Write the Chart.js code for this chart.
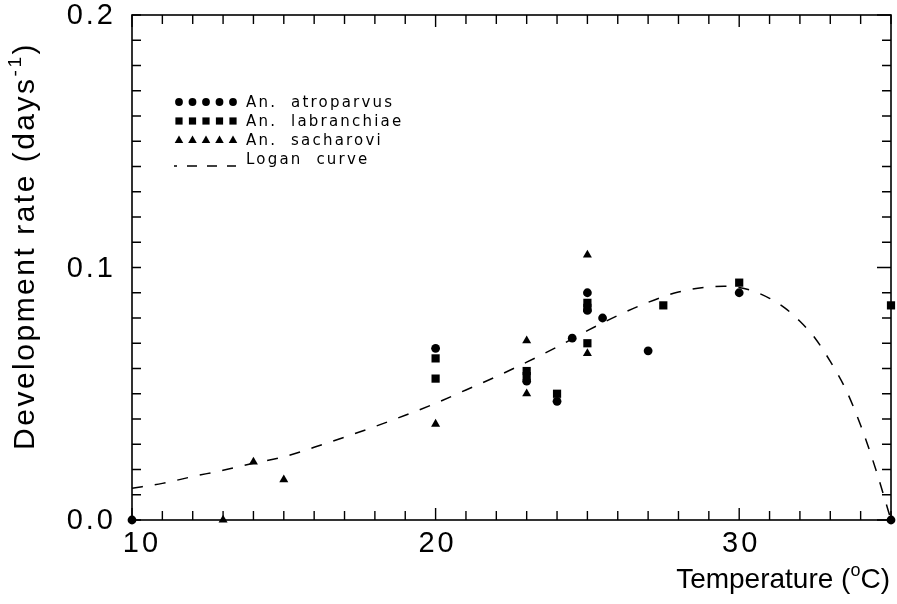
<!DOCTYPE html>
<html>
<head>
<meta charset="utf-8">
<script src="https://cdn.jsdelivr.net/npm/chart.js@4.4.1/dist/chart.umd.min.js"></script>
<style>
  html, body { margin: 0; padding: 0; background: #fff; }
  #wrap { width: 897px; height: 604px; }
</style>
</head>
<body>
<div id="wrap"><canvas id="chart" width="897" height="604"></canvas></div>
<script>
// values (temperature in C, rate in 1/days)
var atroparvusT = [10, 20, 23, 24, 24.5, 25, 25, 25.5, 27, 30, 35];
var atroparvusR = [0.0, 0.068, 0.055, 0.047, 0.072, 0.090, 0.083, 0.080, 0.067, 0.090, 0.0];

var labranchiaeT = [20, 20, 23, 23, 24, 25, 25, 25, 27.5, 30, 35];
var labranchiaeR = [0.064, 0.056, 0.059, 0.057, 0.050, 0.086, 0.084, 0.070, 0.085, 0.094, 0.085];

var sacharoviT = [13, 14, 15, 20, 23, 23, 25, 25];
var sacharoviR = [0.0, 0.023, 0.016, 0.038, 0.071, 0.050, 0.105, 0.066];

// fitted Logan curve
var loganT = [10, 11, 12, 13, 14, 15, 16, 17, 18, 19, 20, 21, 22, 23, 24, 25, 26, 27, 28, 29, 29.5, 30, 30.5, 31, 31.5, 32, 32.5, 33, 33.5, 34, 34.5, 35];
var loganR = [0.0126, 0.0145, 0.0172, 0.0197, 0.0225, 0.0250, 0.0288, 0.0328, 0.0370, 0.0415, 0.0462, 0.0515, 0.0568, 0.0625, 0.0685, 0.0750, 0.0810, 0.0862, 0.0903, 0.0923, 0.0926, 0.0921, 0.0905, 0.0878, 0.0840, 0.0787, 0.0720, 0.0628, 0.0520, 0.0375, 0.0200, 0.0];

var xTicks = [10, 20, 30];
var xTickLabels = ["10", "20", "30"];
var yTicks = [0, 0.1, 0.2];
var yTickLabels = ["0.0", "0.1", "0.2"];

var seriesNames = ["An.  atroparvus", "An.  labranchiae", "An.  sacharovi", "Logan  curve"];

function pairs(xs, ys) {
  var out = [];
  for (var i = 0; i < xs.length; i++) out.push({x: xs[i], y: ys[i]});
  return out;
}

function marker(ctx, style, x, y, r) {
  ctx.beginPath();
  if (style === "circle") {
    ctx.arc(x, y, r, 0, Math.PI * 2);
  } else if (style === "rect") {
    ctx.rect(x - r, y - r, 2 * r, 2 * r);
  } else {
    ctx.moveTo(x, y - r * 1.15);
    ctx.lineTo(x + r * 1.1, y + r * 0.8);
    ctx.lineTo(x - r * 1.1, y + r * 0.8);
    ctx.closePath();
  }
  ctx.fill();
}

// frame with inward ticks on all four sides
var framePlugin = {
  id: "frame",
  beforeDatasetsDraw: function(chart) {
    var ctx = chart.ctx, a = chart.chartArea;
    var xs = chart.scales.x, ys = chart.scales.y;
    ctx.save();
    ctx.strokeStyle = "#000";
    ctx.lineWidth = 1.6;
    ctx.strokeRect(a.left, a.top, a.right - a.left, a.bottom - a.top);
    ctx.lineWidth = 1.4;
    ctx.beginPath();
    for (var t = 10; t <= 35; t++) {
      var px = xs.getPixelForValue(t);
      var len = (t % 10 === 0) ? 12 : 9;
      ctx.moveTo(px, a.bottom); ctx.lineTo(px, a.bottom - len);
      ctx.moveTo(px, a.top); ctx.lineTo(px, a.top + len);
    }
    for (var k = 0; k <= 20; k++) {
      var py = ys.getPixelForValue(k / 100);
      var len2 = (k % 10 === 0) ? 14 : 9;
      ctx.moveTo(a.left, py); ctx.lineTo(a.left + 9, py);
      ctx.moveTo(a.right, py); ctx.lineTo(a.right - len2, py);
    }
    ctx.stroke();
    ctx.restore();
  },
  afterDraw: function(chart) {
    var ctx = chart.ctx, a = chart.chartArea;
    var xs = chart.scales.x, ys = chart.scales.y;
    ctx.save();
    ctx.fillStyle = "#000";

    // tick labels
    ctx.font = "29px 'Liberation Sans', Arial, sans-serif";
    ctx.letterSpacing = "3px";
    ctx.textBaseline = "middle";
    ctx.textAlign = "right";
    yTicks.forEach(function(v, i) {
      ctx.fillText(yTickLabels[i], 116, ys.getPixelForValue(v) + 1);
    });
    ctx.textAlign = "center";
    ctx.textBaseline = "top";
    xTicks.forEach(function(v, i) {
      var px = xs.getPixelForValue(v);
      if (i === 0) px += 8;
      ctx.fillText(xTickLabels[i], px + 2, 529);
    });

    // x axis title with superscript o
    ctx.letterSpacing = "0px";
    ctx.textAlign = "left";
    ctx.textBaseline = "alphabetic";
    var big = "28px 'Liberation Sans', Arial, sans-serif";
    var small = "18px 'Liberation Sans', Arial, sans-serif";
    ctx.font = big;
    var w1 = ctx.measureText("Temperature (").width;
    var w3 = ctx.measureText("C)").width;
    ctx.font = small;
    var w2 = ctx.measureText("o").width;
    var x0 = 890 - (w1 + w2 + w3);
    ctx.font = big;
    ctx.fillText("Temperature (", x0, 588);
    ctx.font = small;
    ctx.fillText("o", x0 + w1, 576);
    ctx.font = big;
    ctx.fillText("C)", x0 + w1 + w2, 588);

    // y axis title with superscript -1
    var ybig = "30px 'Liberation Sans', Arial, sans-serif";
    var ysmall = "19px 'Liberation Sans', Arial, sans-serif";
    ctx.translate(34, 0);
    ctx.rotate(-Math.PI / 2);
    ctx.letterSpacing = "2.5px";
    ctx.font = ybig;
    var v1 = ctx.measureText("Development rate (days").width;
    var v3 = ctx.measureText(")").width;
    ctx.font = ysmall;
    var v2 = ctx.measureText("-1").width;
    var total = v1 + v2 + v3;
    var start = -(246 + total / 2);
    ctx.font = ybig;
    ctx.fillText("Development rate (days", start, 0);
    ctx.font = ysmall;
    ctx.fillText("-1", start + v1, -13);
    ctx.font = ybig;
    ctx.fillText(")", start + v1 + v2, 0);
    ctx.setTransform(1, 0, 0, 1, 0, 0);
    ctx.letterSpacing = "0px";

    // legend inside the plot
    var rows = [102, 121, 140, 159];
    var styles = ["circle", "rect", "triangle"];
    var cx = [179, 192.5, 206, 219.5, 233];
    for (var r = 0; r < 3; r++) {
      for (var m = 0; m < cx.length; m++) {
        marker(ctx, styles[r], cx[m], rows[r], styles[r] === "rect" ? 3.6 : 3.9);
      }
    }
    ctx.strokeStyle = "#000";
    ctx.lineWidth = 1.4;
    ctx.setLineDash([10, 10]);
    ctx.lineDashOffset = 7;
    ctx.beginPath();
    ctx.moveTo(174, rows[3] + 7);
    ctx.lineTo(236, rows[3] + 7);
    ctx.stroke();
    ctx.setLineDash([]);

    ctx.font = "15px 'DejaVu Sans', sans-serif";
    ctx.letterSpacing = "2.2px";
    ctx.textBaseline = "middle";
    ctx.textAlign = "left";
    for (var s = 0; s < seriesNames.length; s++) {
      ctx.fillText(seriesNames[s], 246, rows[s] + 1);
    }
    ctx.restore();
  }
};

new Chart(document.getElementById("chart"), {
  type: "scatter",
  data: {
    datasets: [
      {
        label: seriesNames[0],
        data: pairs(atroparvusT, atroparvusR),
        pointStyle: "circle",
        pointRadius: 4.4,
        backgroundColor: "#000",
        borderColor: "#000",
        borderWidth: 0,
        clip: false
      },
      {
        label: seriesNames[1],
        data: pairs(labranchiaeT, labranchiaeR),
        pointStyle: "rect",
        pointRadius: 5.8,
        backgroundColor: "#000",
        borderColor: "#000",
        borderWidth: 0,
        clip: false
      },
      {
        label: seriesNames[2],
        data: pairs(sacharoviT, sacharoviR),
        pointStyle: "triangle",
        pointRadius: 5.2,
        backgroundColor: "#000",
        borderColor: "#000",
        borderWidth: 0,
        clip: false
      },
      {
        label: seriesNames[3],
        type: "line",
        data: pairs(loganT, loganR),
        showLine: true,
        borderColor: "#000",
        borderWidth: 1.5,
        borderDash: [11, 12],
        pointRadius: 0,
        tension: 0.4,
        cubicInterpolationMode: "monotone",
        fill: false,
        clip: false
      }
    ]
  },
  options: {
    responsive: false,
    animation: false,
    layout: { padding: { left: 132, top: 15, right: 6, bottom: 84 } },
    plugins: { legend: { display: false }, tooltip: { enabled: false } },
    scales: {
      x: { type: "linear", min: 10, max: 35, display: false },
      y: { type: "linear", min: 0, max: 0.2, display: false }
    }
  },
  plugins: [framePlugin]
});
</script>
</body>
</html>
